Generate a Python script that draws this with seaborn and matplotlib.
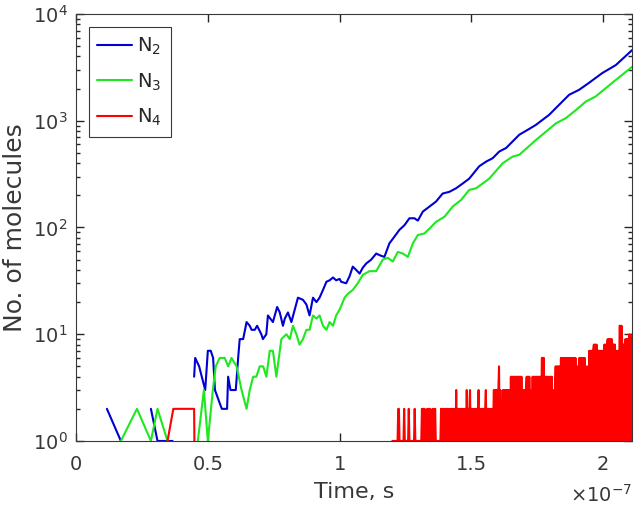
import numpy as np
import pandas as pd
import seaborn as sns
import matplotlib.pyplot as plt
from matplotlib.ticker import FuncFormatter, LogLocator, NullLocator, NullFormatter

# times are in units of 1e-7 s, values are molecule counts
n2_early_t = [0.117, 0.170]
n2_early = [2, 1]
n2_mid_t = [0.284, 0.309, 0.366]
n2_mid = [2, 1, 1]
n2_t = [0.448, 0.452, 0.467, 0.490, 0.500, 0.511, 0.520, 0.527, 0.553, 0.573,
        0.577, 0.586, 0.606, 0.615, 0.621, 0.634, 0.647, 0.659, 0.666, 0.678,
        0.687, 0.703, 0.709, 0.722, 0.728, 0.747, 0.763, 0.773, 0.785, 0.792,
        0.804, 0.817, 0.842, 0.861, 0.874, 0.886, 0.899, 0.912, 0.924, 0.937,
        0.950, 0.962, 0.975, 0.987, 1.000, 1.006, 1.025, 1.038, 1.050, 1.063,
        1.076, 1.088, 1.101, 1.120, 1.139, 1.152, 1.170, 1.189, 1.208, 1.227,
        1.246, 1.265, 1.284, 1.297, 1.316, 1.341, 1.366, 1.391, 1.417, 1.442,
        1.467, 1.492, 1.530, 1.556, 1.581, 1.606, 1.632, 1.682, 1.713, 1.745,
        1.795, 1.833, 1.871, 1.909, 1.947, 1.997, 2.048, 2.110]
n2 = [4, 6, 5, 3, 7, 7, 6, 3, 2, 2,
      4, 3, 3, 6, 9, 9, 13, 12, 11, 11,
      12, 10, 9, 10, 15, 13, 18, 16, 12, 14,
      16, 13, 22, 21, 19, 15, 22, 20, 22, 26,
      31, 32, 34, 32, 33, 31, 30, 35, 43, 40,
      37, 42, 46, 50, 57, 55, 53, 71, 82, 95,
      105, 122, 122, 116, 141, 157, 175, 208, 216, 233,
      258, 287, 375, 414, 446, 515, 556, 740, 820, 915,
      1135, 1410, 1750, 1950, 2270, 2800, 3320, 4590]

n3_early_t = [0.170, 0.231, 0.284, 0.309, 0.347]
n3_early = [1, 2, 1, 2, 1]
n3_t = [0.462, 0.485, 0.500, 0.519, 0.530, 0.545, 0.564, 0.577, 0.590, 0.609,
        0.628, 0.647, 0.659, 0.672, 0.684, 0.697, 0.710, 0.722, 0.735, 0.747,
        0.760, 0.779, 0.798, 0.811, 0.823, 0.836, 0.848, 0.861, 0.874, 0.886,
        0.899, 0.912, 0.924, 0.937, 0.950, 0.962, 0.975, 0.987, 1.000, 1.019,
        1.032, 1.050, 1.069, 1.088, 1.114, 1.139, 1.164, 1.183, 1.202, 1.221,
        1.240, 1.259, 1.278, 1.297, 1.322, 1.347, 1.366, 1.398, 1.429, 1.461,
        1.492, 1.518, 1.568, 1.619, 1.657, 1.682, 1.745, 1.783, 1.821, 1.859,
        1.897, 1.934, 1.972, 2.035, 2.110]
n3 = [1, 3, 1, 3, 5, 6, 6, 5, 6, 5,
      3, 2, 3, 4, 4, 5, 5, 4, 7, 7,
      4, 9, 10, 9, 12, 10, 8, 9, 11, 11,
      15, 14, 15, 12, 11, 13, 12, 15, 17, 22,
      24, 26, 30, 36, 39, 39, 50, 52, 48, 59,
      57, 53, 71, 85, 88, 101, 113, 126, 157, 181,
      225, 233, 287, 400, 462, 480, 660, 790, 945, 1060,
      1260, 1510, 1690, 2270, 3200]

n4_early_t = [0.347, 0.369, 0.448, 0.449]
n4_early = [1, 2, 2, 1]
# N4 sampled every 0.0025e-7 s from 1.20e-7 to 2.11e-7 s
n4_start, n4_end = 1.20, 2.11
n4 = [1, 1, 1, 1, 1, 1, 1, 1, 1, 2, 2, 1, 1, 1, 1, 1, 1, 1, 2, 1,
      1, 1, 1, 1, 1, 2, 1, 1, 1, 1, 1, 1, 1, 1, 2, 1, 1, 1, 1, 1,
      1, 1, 1, 1, 1, 2, 1, 2, 1, 2, 1, 1, 1, 2, 1, 2, 1, 2, 1, 1,
      1, 2, 1, 2, 1, 2, 1, 1, 1, 1, 1, 1, 1, 1, 2, 1, 2, 1, 2, 1,
      2, 1, 2, 1, 2, 1, 2, 1, 2, 1, 2, 1, 2, 1, 1, 2, 1, 3, 1, 2,
      1, 2, 1, 2, 1, 2, 1, 2, 1, 2, 1, 2, 1, 3, 1, 2, 1, 2, 3, 1,
      2, 1, 2, 1, 2, 1, 2, 1, 2, 1, 2, 3, 1, 2, 1, 2, 1, 2, 1, 2,
      1, 2, 3, 1, 2, 1, 2, 1, 2, 1, 2, 1, 2, 1, 3, 3, 1, 3, 1, 3,
      1, 3, 5, 1, 3, 1, 1, 1, 3, 1, 3, 1, 3, 1, 3, 1, 3, 1, 3, 1,
      4, 1, 4, 1, 4, 1, 4, 1, 4, 1, 4, 1, 4, 1, 4, 1, 4, 1, 1, 3,
      1, 3, 1, 3, 4, 1, 4, 1, 4, 1, 1, 3, 1, 4, 1, 4, 1, 4, 1, 4,
      1, 4, 1, 4, 1, 4, 1, 6, 6, 1, 6, 1, 4, 1, 4, 1, 4, 1, 4, 1,
      4, 1, 4, 1, 1, 3, 1, 3, 5, 1, 5, 1, 5, 1, 5, 1, 6, 1, 6, 1,
      6, 1, 6, 1, 6, 1, 6, 1, 6, 1, 6, 1, 6, 1, 6, 1, 6, 1, 6, 1,
      5, 1, 1, 5, 6, 1, 6, 1, 6, 1, 6, 1, 6, 1, 5, 1, 1, 5, 1, 7,
      1, 7, 1, 7, 1, 7, 8, 1, 8, 1, 8, 7, 1, 7, 1, 7, 1, 7, 1, 7,
      1, 1, 8, 1, 8, 1, 8, 9, 1, 9, 1, 9, 1, 9, 8, 1, 8, 1, 8, 1,
      1, 7, 1, 7, 1, 12, 12, 1, 12, 8, 1, 8, 1, 8, 9, 1, 9, 1, 9, 1,
      10, 1, 9, 1, 10]
n4_t = np.linspace(n4_start, n4_end, len(n4))

labels = ["N$_2$", "N$_3$", "N$_4$"]
colors = ["#0000d2", "#1ee81e", "#ff0000"]

rows = []
def add(name, seg, ts, ns):
    for t, n in zip(ts, ns):
        rows.append((t * 1e-7, n, name, seg))

add(labels[0], "n2a", n2_early_t, n2_early)
add(labels[0], "n2b", n2_mid_t, n2_mid)
add(labels[0], "n2c", n2_t, n2)
add(labels[1], "n3a", n3_early_t, n3_early)
add(labels[1], "n3b", n3_t, n3)
add(labels[2], "n4a", n4_early_t, n4_early)
add(labels[2], "n4b", n4_t, n4)
df = pd.DataFrame(rows, columns=["time", "count", "species", "segment"])

sns.set_style("ticks")
plt.rcParams["font.family"] = ["DejaVu Sans"]
plt.rcParams["mathtext.fontset"] = "dejavusans"
plt.rcParams["path.simplify"] = False

fig = plt.figure(figsize=(6.34, 5.13), dpi=100)
ax = fig.add_axes([0.12, 0.1404, 0.877, 0.8323])

sns.lineplot(data=df, x="time", y="count", hue="species", units="segment",
             estimator=None, sort=False, palette=dict(zip(labels, colors)),
             linewidth=1.5, ax=ax)

ax.set_yscale("log")
ax.set_ylim(1, 1e4)
ax.set_xlim(0, 2.11e-7)
ax.set_xticks([0, 0.5e-7, 1e-7, 1.5e-7, 2e-7])
ax.xaxis.set_major_formatter(FuncFormatter(lambda v, _: f"{v * 1e7:g}"))
ax.xaxis.set_minor_locator(NullLocator())
ax.yaxis.set_major_locator(LogLocator(base=10, numticks=100))
ax.yaxis.set_minor_locator(LogLocator(base=10, subs=np.arange(2, 10), numticks=100))
ax.yaxis.set_minor_formatter(NullFormatter())

grey = "#383838"
for s in ax.spines.values():
    s.set_color(grey)
    s.set_linewidth(0.8)
ax.tick_params(which="both", direction="in", top=True, right=True,
               bottom=True, left=True, colors="#262626", labelcolor=grey,
               width=1.0)
ax.tick_params(which="major", length=5.5, labelsize=14)
ax.tick_params(axis="x", which="major", pad=10)
ax.tick_params(axis="y", which="major", pad=6)
ax.tick_params(which="minor", length=3.2)

ax.set_xlabel("Time, s", fontsize=16, color=grey, labelpad=6)
ax.set_ylabel("No. of molecules", fontsize=18, color=grey, labelpad=4)
ax.text(1.0, -0.100, r"$\times 10^{-7}$", transform=ax.transAxes,
        ha="right", va="top", fontsize=14, color=grey)

old = ax.get_legend()
handles = old.legend_handles
leg = ax.legend(handles, labels, loc="upper left", fontsize=14,
                frameon=True, fancybox=False, framealpha=1, edgecolor=grey,
                handlelength=1.8, handletextpad=0.25, labelspacing=0.75,
                borderaxespad=0.65, borderpad=0.45)
leg.get_frame().set_linewidth(0.8)

fig.savefig("out.png", dpi=100)
